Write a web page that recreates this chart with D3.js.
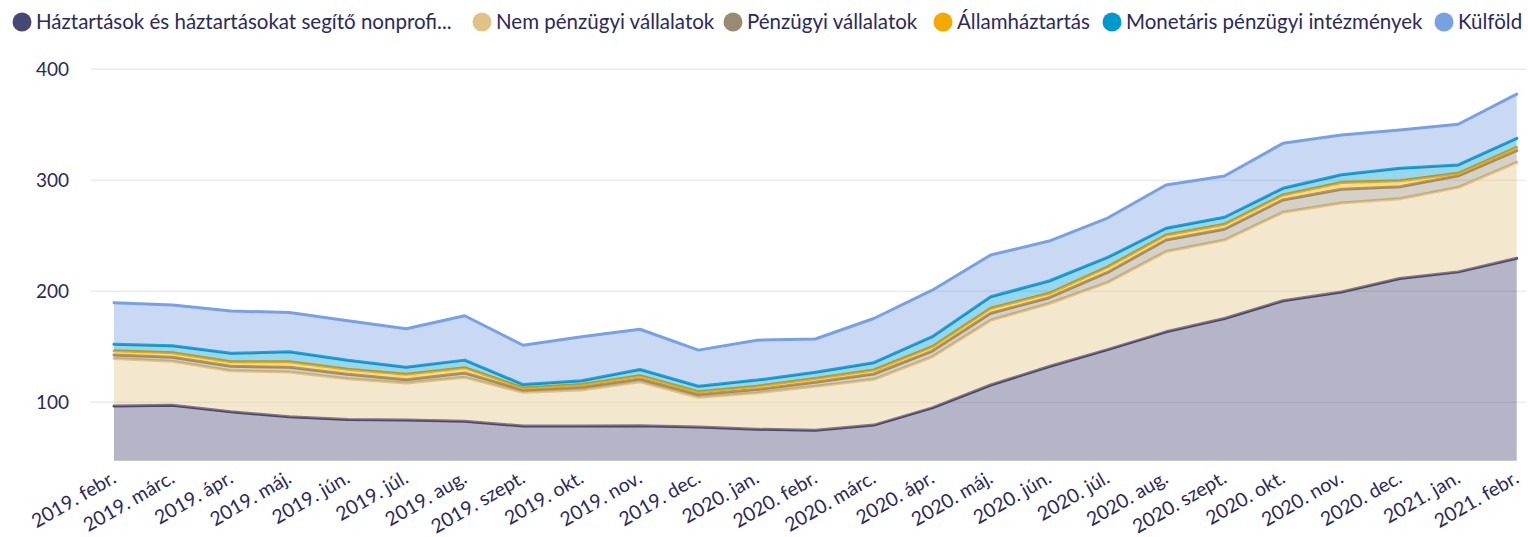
<!DOCTYPE html>
<html>
<head>
<meta charset="utf-8">
<script src="https://cdn.jsdelivr.net/npm/d3@7/dist/d3.min.js"></script>
<style>
  html, body { margin: 0; padding: 0; background: #fff; }
  svg { display: block; font-family: Lato, "Open Sans", sans-serif; }
</style>
</head>
<body>
<svg id="chart" width="1528" height="537"></svg>
<script>
// Monthly categories
const months = [
  "2019. febr.", "2019. márc.", "2019. ápr.", "2019. máj.", "2019. jún.", "2019. júl.",
  "2019. aug.", "2019. szept.", "2019. okt.", "2019. nov.", "2019. dec.", "2020. jan.",
  "2020. febr.", "2020. márc.", "2020. ápr.", "2020. máj.", "2020. jún.", "2020. júl.",
  "2020. aug.", "2020. szept.", "2020. okt.", "2020. nov.", "2020. dec.", "2021. jan.",
  "2021. febr."
];

// Holdings by sector (stacked, bottom to top)
const haztartasok = [96.7, 97.3, 91.5, 87.0, 84.6, 84.0, 83.0, 78.7, 78.6, 78.9, 77.7, 75.7, 74.8,
  79.5, 95.0, 115.6, 132.3, 147.5, 163.5, 175.5, 191.5, 199.3, 211.5, 217.5, 229.8];
const nemPenzugyi = [42.8, 39.7, 37.0, 40.3, 36.7, 33.5, 39.5, 30.3, 32.4, 39.6, 26.8, 32.8, 39.7,
  41.2, 46.0, 58.4, 56.7, 60.5, 72.3, 70.7, 79.7, 80.2, 71.8, 76.2, 86.4];
const penzugyi = [3.1, 3.5, 4.0, 4.2, 3.9, 2.9, 3.9, 2.0, 2.5, 2.5, 2.5, 3.0, 3.5,
  4.8, 5.2, 6.2, 5.2, 9.0, 10.4, 9.7, 11.1, 12.5, 10.9, 10.4, 10.5];
const allamhaztartas = [3.9, 4.2, 4.1, 5.1, 4.5, 4.8, 4.8, 2.0, 2.5, 3.0, 2.5, 3.0, 3.5,
  3.6, 3.9, 4.5, 4.0, 5.0, 4.5, 4.5, 4.5, 6.0, 5.4, 2.2, 3.0];
const monetaris = [5.7, 6.3, 7.5, 9.0, 8.1, 6.3, 6.8, 3.0, 3.5, 5.5, 5.0, 5.5, 5.5,
  6.6, 9.0, 10.4, 11.1, 8.5, 6.1, 6.3, 6.0, 7.0, 11.2, 7.5, 8.1];
const kulfold = [37.5, 36.7, 38.1, 35.4, 35.7, 34.8, 40.0, 35.4, 39.5, 36.3, 32.5, 36.0, 30.0,
  39.8, 41.9, 37.6, 36.0, 35.5, 39.0, 37.2, 40.5, 35.8, 34.5, 36.7, 39.9];

const seriesNames = [
  "Háztartások és háztartásokat segítő nonprofi...",
  "Nem pénzügyi vállalatok",
  "Pénzügyi vállalatok",
  "Államháztartás",
  "Monetáris pénzügyi intézmények",
  "Külföld"
];
const seriesValues = [haztartasok, nemPenzugyi, penzugyi, allamhaztartas, monetaris, kulfold];
const seriesColors = ["#474774", "#e0c284", "#978c73", "#f5a800", "#0099cc", "#78a1e3"];

const yTicks = [100, 200, 300, 400];

// ---- layout ----
const svg = d3.select("#chart");
const plot = { left: 91, right: 1526, top: 69.3, bottom: 460.7 };
const textColor = "#2b2a5c";
const fontStack = "Lato, 'Open Sans', sans-serif";

const x = d3.scalePoint().domain(months).range([114, 1516.7]);
const y = d3.scaleLinear().domain([47.4, 400]).range([plot.bottom, plot.top]);

// table for the stack
const rows = months.map((m, i) => {
  const r = { month: m };
  seriesNames.forEach((n, k) => { r[n] = seriesValues[k][i]; });
  return r;
});
const stacked = d3.stack().keys(seriesNames)(rows);

// gridlines
svg.append("g")
  .attr("class", "grid")
  .selectAll("line")
  .data(yTicks)
  .join("line")
  .attr("x1", plot.left)
  .attr("x2", plot.right)
  .attr("y1", d => y(d))
  .attr("y2", d => y(d))
  .attr("stroke", "#ebebeb")
  .attr("stroke-width", 1.5);

// y axis labels
const yAxis = d3.axisLeft(y).tickValues(yTicks).tickSize(0).tickPadding(0);
const yg = svg.append("g").attr("transform", "translate(69,0)").call(yAxis);
yg.select(".domain").remove();
yg.selectAll("text")
  .attr("fill", textColor)
  .style("font-size", "19px")
  .style("font-family", fontStack);

// clip to plotting area
svg.append("defs").append("clipPath").attr("id", "plotClip")
  .append("rect")
  .attr("x", 0).attr("y", 0)
  .attr("width", 1528).attr("height", plot.bottom);

const area = d3.area()
  .x(d => x(d.data.month))
  .y0(d => y(d[0]))
  .y1(d => y(d[1]));
const line = d3.line()
  .x(d => x(d.data.month))
  .y(d => y(d[1]));

const layers = svg.append("g").attr("clip-path", "url(#plotClip)");
stacked.forEach((s, k) => {
  const g = layers.append("g");
  g.append("path")
    .datum(s)
    .attr("d", area)
    .attr("fill", seriesColors[k])
    .attr("fill-opacity", 0.4);
  g.append("path")
    .datum(s)
    .attr("d", line)
    .attr("fill", "none")
    .attr("stroke", seriesColors[k])
    .attr("stroke-width", 3)
    .attr("stroke-linejoin", "round")
    .attr("stroke-linecap", "round");
});

// x axis labels (rotated)
const xAxis = d3.axisBottom(x).tickSize(0).tickPadding(0);
const xg = svg.append("g").attr("transform", `translate(0,${plot.bottom})`).call(xAxis);
xg.select(".domain").remove();
xg.selectAll("text")
  .attr("fill", textColor)
  .style("font-size", "19.5px")
  .style("font-family", fontStack)
  .attr("text-anchor", "end")
  .attr("dy", null)
  .attr("y", null)
  .attr("transform", "translate(3,21) rotate(-30)");

// legend
const legendX = [22, 482, 733, 943, 1112, 1444];
const legend = svg.append("g").attr("class", "legend");
seriesNames.forEach((n, k) => {
  const item = legend.append("g").attr("transform", `translate(${legendX[k]},22)`);
  item.append("circle").attr("r", 9.5).attr("fill", seriesColors[k]);
  item.append("text")
    .attr("x", 14)
    .attr("dy", "0.35em")
    .attr("fill", textColor)
    .style("font-size", "20.5px")
    .text(n);
});
</script>
</body>
</html>
